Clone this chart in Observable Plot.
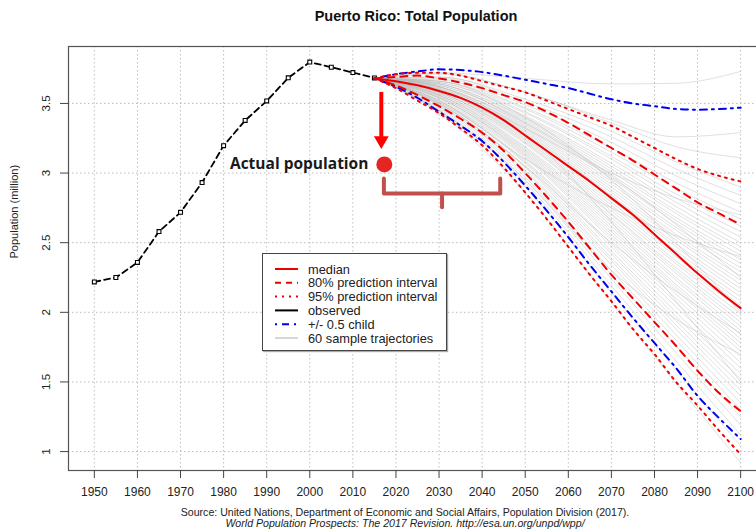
<!DOCTYPE html>
<html><head><meta charset="utf-8">
<script src="https://cdn.jsdelivr.net/npm/d3@7"></script>
<script src="https://cdn.jsdelivr.net/npm/@observablehq/plot@0.6"></script>
<style>
html,body{margin:0;padding:0;background:#fff;overflow:hidden;}
#wrap{position:relative;width:756px;height:529px;overflow:hidden;font-family:"Liberation Sans",Arial,sans-serif;}
#title{position:absolute;left:0;top:8px;width:832px;text-align:center;font-weight:bold;font-size:14.5px;color:#111;}
#chart{position:absolute;left:0;top:36px;width:780px;height:472px;}
#chart svg{max-width:none !important;}
#legend{position:absolute;left:262px;top:253px;width:183px;height:96px;border:1px solid #444;background:#fff;box-shadow:1px 1px 1px #aaa;}
#caption{position:absolute;left:0;top:507px;width:810px;text-align:center;font-size:10.6px;line-height:11px;color:#222;}
</style></head>
<body>
<div id="wrap">
  <div id="title"></div>
  <div id="chart"></div>
  <div id="legend"></div>
  <div id="caption"></div>
</div>
<script>
const titleText = "Puerto Rico: Total Population";
const yTitle = "Population (million)";
const captionLines = ["Source: United Nations, Department of Economic and Social Affairs, Population Division (2017).",
  "World Population Prospects: The 2017 Revision. http://esa.un.org/unpd/wpp/"];
const xTicks = [1950,1960,1970,1980,1990,2000,2010,2020,2030,2040,2050,2060,2070,2080,2090,2100];
const yTicks = [1,1.5,2,2.5,3,3.5];
const xDomain = [1944, 2106];
const yDomain = [0.864, 3.909];

// observed
const obsYears = [1950,1955,1960,1965,1970,1975,1980,1985,1990,1995,2000,2005,2010,2015];
const observed = [2.218,2.250,2.358,2.580,2.718,2.932,3.197,3.378,3.518,3.684,3.797,3.760,3.722,3.683];

// projections
const projYears = [2015,2020,2025,2030,2035,2040,2045,2050,2055,2060,2065,2070,2075,2080,2085,2090,2095,2100];
const median    = [3.68,3.66,3.63,3.59,3.54,3.47,3.38,3.27,3.16,3.05,2.94,2.82,2.70,2.56,2.42,2.28,2.15,2.03];
const pi80Upper = [3.68,3.69,3.70,3.68,3.65,3.61,3.56,3.51,3.44,3.36,3.27,3.18,3.09,2.99,2.89,2.79,2.71,2.63];
const pi80Lower = [3.68,3.63,3.56,3.48,3.39,3.29,3.16,3.00,2.83,2.65,2.46,2.27,2.10,1.93,1.76,1.58,1.42,1.29];
const pi95Upper = [3.68,3.71,3.72,3.72,3.70,3.66,3.62,3.58,3.52,3.46,3.40,3.34,3.26,3.18,3.10,3.03,2.98,2.94];
const pi95Lower = [3.68,3.61,3.52,3.43,3.32,3.20,3.04,2.86,2.67,2.47,2.27,2.08,1.88,1.70,1.50,1.33,1.15,0.98];
const childUpper= [3.68,3.71,3.73,3.745,3.74,3.725,3.70,3.67,3.64,3.61,3.57,3.53,3.50,3.48,3.46,3.455,3.46,3.47];
const childLower= [3.68,3.62,3.54,3.44,3.34,3.23,3.08,2.91,2.73,2.54,2.34,2.15,1.96,1.78,1.60,1.40,1.24,1.09];

// 60 sample trajectories (values at trajYears)
const trajYears = [2015,2030,2050,2070,2085,2100];
const trajectories = [
[3.68,3.72,3.68,3.64,3.645,3.73],
[3.68,3.72,3.58,3.38,3.26,3.29],
[3.68,3.71,3.58,3.36,3.19,3.11],
[3.68,3.69,3.53,3.30,3.08,2.90],
[3.68,3.69,3.51,3.26,3.03,2.84],
[3.68,3.68,3.49,3.22,2.98,2.78],
[3.68,3.67,3.47,3.18,2.93,2.72],
[3.68,3.66,3.46,3.15,2.89,2.67],
[3.68,3.66,3.44,3.12,2.85,2.62],
[3.68,3.65,3.43,3.10,2.82,2.58],
[3.68,3.65,3.41,3.07,2.79,2.54],
[3.68,3.64,3.40,3.05,2.76,2.50],
[3.68,3.64,3.39,3.03,2.73,2.47],
[3.68,3.63,3.38,3.01,2.71,2.44],
[3.68,3.63,3.37,2.99,2.68,2.41],
[3.68,3.62,3.36,2.97,2.66,2.38],
[3.68,3.62,3.35,2.96,2.64,2.35],
[3.68,3.62,3.34,2.94,2.61,2.32],
[3.68,3.61,3.33,2.92,2.59,2.29],
[3.68,3.61,3.32,2.90,2.56,2.26],
[3.68,3.60,3.31,2.88,2.54,2.23],
[3.68,3.60,3.30,2.86,2.52,2.20],
[3.68,3.60,3.29,2.84,2.49,2.17],
[3.68,3.59,3.28,2.83,2.47,2.14],
[3.68,3.59,3.27,2.81,2.44,2.11],
[3.68,3.58,3.26,2.79,2.42,2.08],
[3.68,3.58,3.25,2.77,2.40,2.05],
[3.68,3.58,3.24,2.75,2.37,2.02],
[3.68,3.57,3.23,2.73,2.35,1.99],
[3.68,3.57,3.22,2.71,2.32,1.96],
[3.68,3.56,3.21,2.70,2.30,1.93],
[3.68,3.56,3.19,2.68,2.28,1.90],
[3.68,3.56,3.18,2.66,2.25,1.87],
[3.68,3.55,3.17,2.64,2.23,1.84],
[3.68,3.55,3.16,2.62,2.20,1.81],
[3.68,3.54,3.15,2.60,2.18,1.78],
[3.68,3.54,3.14,2.58,2.16,1.75],
[3.68,3.54,3.13,2.56,2.13,1.72],
[3.68,3.53,3.12,2.54,2.10,1.68],
[3.68,3.52,3.11,2.52,2.07,1.64],
[3.68,3.52,3.09,2.49,2.04,1.60],
[3.68,3.51,3.08,2.47,2.00,1.56],
[3.68,3.51,3.07,2.44,1.97,1.52],
[3.68,3.50,3.05,2.42,1.94,1.48],
[3.68,3.50,3.04,2.39,1.91,1.44],
[3.68,3.49,3.02,2.37,1.88,1.40],
[3.68,3.49,3.01,2.34,1.84,1.35],
[3.68,3.48,2.99,2.30,1.80,1.30],
[3.68,3.47,2.97,2.27,1.76,1.25],
[3.68,3.46,2.95,2.24,1.71,1.19],
[3.68,3.45,2.93,2.19,1.65,1.12],
[3.68,3.44,2.90,2.14,1.59,1.04],
[3.68,3.43,2.86,2.07,1.49,0.92],
[3.68,3.66,3.40,2.95,2.50,2.00],
[3.68,3.45,2.95,2.30,1.95,1.70],
[3.68,3.52,3.10,2.75,2.55,2.40],
[3.68,3.60,3.28,2.65,2.08,1.50],
[3.68,3.62,3.32,3.00,2.82,2.70],
[3.68,3.50,3.05,2.50,2.15,1.85],
[3.68,3.64,3.36,2.98,2.63,2.25]
];

// annotations
const arrowShaft = [{year: 2016.6, from: 3.583, to: 3.26}];
const arrowHead = [{year: 2016.6, value: 3.234}];
const actualPoint = [{year: 2017.3, value: 3.062}];
const actualLabel = [{year: 2013.6, value: 3.062, text: "Actual population"}];
const braceSeg = ["a","a","a","a","b","b"];
const braceYear = [2017.2, 2017.2, 2044.2, 2044.2, 2030.7, 2030.7];
const braceValue = [2.961, 2.853, 2.853, 2.961, 2.853, 2.755];

const legendLabels = ["median","80% prediction interval","95% prediction interval","observed","+/- 0.5 child","60 sample trajectories"];

const RED = "#ee0000", BLUE = "#0000ee";
const legendStyles = [
  {stroke: RED, dash: null, w: 2},
  {stroke: RED, dash: "6,5", w: 2},
  {stroke: RED, dash: "2,5", w: 2},
  {stroke: "#000", dash: null, w: 2},
  {stroke: BLUE, dash: "2,5,7,5", w: 2},
  {stroke: "#bbb", dash: null, w: 1.2}
];

// tables
const obsTable = obsYears.map((y, i) => ({year: y, value: observed[i]}));
const mk = arr => projYears.map((y, i) => ({year: y, value: arr[i]}));
const trajTable = trajectories.flatMap((t, id) => t.map((v, i) => ({id, year: trajYears[i], value: v})));
const braceTable = braceSeg.map((s, i) => ({seg: s, year: braceYear[i], value: braceValue[i]}));

const chart = Plot.plot({
  width: 780, height: 472,
  marginLeft: 68, marginRight: 14, marginTop: 10, marginBottom: 38,
  x: {domain: xDomain, axis: null},
  y: {domain: yDomain, axis: null},
  style: {fontFamily: '"Liberation Sans", Arial, sans-serif', background: "transparent", color: "#222", maxWidth: "none"},
  marks: [
    Plot.gridX(xTicks, {stroke: "#bdbdbd", strokeOpacity: 1, strokeDasharray: "1.5,2.5"}),
    Plot.gridY(yTicks, {stroke: "#bdbdbd", strokeOpacity: 1, strokeDasharray: "1.5,2.5"}),
    Plot.line(trajTable, {x: "year", y: "value", z: "id", stroke: "#b8b8b8", strokeWidth: 0.8, strokeOpacity: 0.55, curve: "monotone-x"}),
    Plot.line(obsTable, {x: "year", y: "value", stroke: "#000", strokeWidth: 1.8, strokeDasharray: "6,4"}),
    Plot.dot(obsTable, {x: "year", y: "value", symbol: "square", r: 2.2, stroke: "#000", fill: "#fff", strokeWidth: 1.1}),
    Plot.line(mk(childUpper), {x: "year", y: "value", stroke: BLUE, strokeWidth: 2, strokeDasharray: "2,5,7,5", curve: "monotone-x"}),
    Plot.line(mk(childLower), {x: "year", y: "value", stroke: BLUE, strokeWidth: 2, strokeDasharray: "2,5,7,5", curve: "monotone-x"}),
    Plot.line(mk(pi95Upper), {x: "year", y: "value", stroke: RED, strokeWidth: 2, strokeDasharray: "2,5", curve: "monotone-x"}),
    Plot.line(mk(pi95Lower), {x: "year", y: "value", stroke: RED, strokeWidth: 2, strokeDasharray: "2,5", curve: "monotone-x"}),
    Plot.line(mk(pi80Upper), {x: "year", y: "value", stroke: RED, strokeWidth: 2, strokeDasharray: "7,6", curve: "monotone-x"}),
    Plot.line(mk(pi80Lower), {x: "year", y: "value", stroke: RED, strokeWidth: 2, strokeDasharray: "7,6", curve: "monotone-x"}),
    Plot.line(mk(median), {x: "year", y: "value", stroke: RED, strokeWidth: 2, curve: "monotone-x"}),
    // annotations
    Plot.link(arrowShaft, {x1: "year", x2: "year", y1: "from", y2: "to", stroke: "#ff0000", strokeWidth: 4}),
    Plot.dot(arrowHead, {x: "year", y: "value", symbol: "triangle", r: 5.5, fill: "#ff0000", rotate: 180}),
    Plot.dot(actualPoint, {x: "year", y: "value", r: 8, fill: "#e52521"}),
    Plot.text(actualLabel, {x: "year", y: "value", text: "text", textAnchor: "end", fontSize: 15.5, fontWeight: "bold", fontFamily: '"Open Sans", sans-serif', fill: "#1a1a1a"}),
    Plot.line(braceTable, {x: "year", y: "value", z: "seg", stroke: "#c0504d", strokeWidth: 4, strokeLinejoin: "round", strokeLinecap: "round"}),
    // frame and axes
    Plot.frame({stroke: "#555", strokeWidth: 1.2}),
    Plot.axisX(xTicks, {tickSize: 8, tickPadding: 9, fontSize: 12, tickFormat: d => String(d), stroke: "#444", label: null}),
    Plot.axisY(yTicks, {tickSize: 8, tickRotate: -90, tickPadding: 11, fontSize: 11.5, tickFormat: d => String(d), stroke: "#444", label: null}),
    Plot.text([yTitle], {frameAnchor: "left", rotate: -90, dx: -54, fontSize: 11, fill: "#222"})
  ]
});
document.getElementById("chart").appendChild(chart);
document.getElementById("title").textContent = titleText;

const cap = d3.select("#caption");
cap.append("div").text(captionLines[0]);
cap.append("div").style("font-style", "italic").text(captionLines[1]);

// legend
const lg = d3.select("#legend").append("svg").attr("width", 183).attr("height", 96);
legendLabels.forEach((lab, i) => {
  const yy = 15 + i * 13.8;
  const s = legendStyles[i];
  lg.append("line").attr("x1", 12).attr("x2", 35).attr("y1", yy).attr("y2", yy)
    .attr("stroke", s.stroke).attr("stroke-width", s.w).attr("stroke-dasharray", s.dash);
  lg.append("text").attr("x", 45).attr("y", yy).attr("dy", "0.36em")
    .attr("font-size", 12.8).attr("fill", "#222")
    .attr("font-family", '"Liberation Sans", Arial, sans-serif').text(lab);
});
</script>
</body></html>
